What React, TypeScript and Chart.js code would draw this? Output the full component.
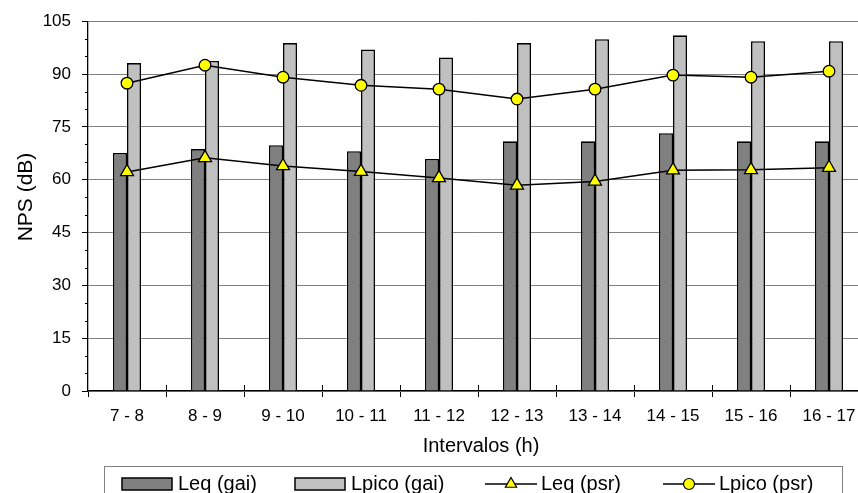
import React, { useEffect, useRef } from "react";
import { Chart, registerables } from "chart.js";

Chart.register(...registerables);

// Hourly intervals and measured sound pressure levels (dB)
const categories = ["7 - 8", "8 - 9", "9 - 10", "10 - 11", "11 - 12", "12 - 13", "13 - 14", "14 - 15", "15 - 16", "16 - 17"];
const leqGai = [67.6, 68.7, 69.8, 68.1, 65.9, 70.9, 70.9, 73.2, 70.9, 70.9];
const lpicoGai = [93.1, 93.7, 98.8, 97.0, 94.7, 98.8, 99.9, 101.0, 99.3, 99.3];
const leqPsr = [62.2, 66.2, 63.9, 62.3, 60.5, 58.4, 59.5, 62.7, 62.8, 63.4];
const lpicoPsr = [87.4, 92.5, 89.1, 86.8, 85.7, 82.9, 85.7, 89.7, 89.1, 90.8];
const yTicks = [0, 15, 30, 45, 60, 75, 90, 105];
const yMinorStep = 5;

const FONT = "'Liberation Sans', Arial, Helvetica, sans-serif";

const decor = {
  id: "decor",
  afterDraw(chart: any) {
    const { ctx, chartArea, scales } = chart;
    const x = scales.x;
    const y = scales.y;
    ctx.save();

    // minor ticks on the value axis
    ctx.strokeStyle = "#000";
    ctx.lineWidth = 1;
    for (let v = yTicks[0]; v <= yTicks[yTicks.length - 1]; v += yMinorStep) {
      if (yTicks.includes(v)) continue;
      const py = Math.round(y.getPixelForValue(v)) + 0.5;
      ctx.beginPath();
      ctx.moveTo(chartArea.left - 3, py);
      ctx.lineTo(chartArea.left, py);
      ctx.stroke();
    }

    // category ticks cross the axis line
    for (let i = 1; i < categories.length; i++) {
      const px = Math.round((x.getPixelForValue(i - 1) + x.getPixelForValue(i)) / 2) + 0.5;
      ctx.beginPath();
      ctx.moveTo(px, chartArea.bottom - 6);
      ctx.lineTo(px, chartArea.bottom);
      ctx.stroke();
    }

    // axis titles
    ctx.fillStyle = "#000";
    ctx.font = `20px ${FONT}`;
    ctx.textAlign = "center";
    ctx.textBaseline = "alphabetic";
    ctx.fillText("Intervalos (h)", 481, 452);

    ctx.save();
    ctx.translate(32, 197);
    ctx.rotate(-Math.PI / 2);
    ctx.font = `21px ${FONT}`;
    ctx.textBaseline = "alphabetic";
    ctx.fillText("NPS (dB)", 0, 0);
    ctx.restore();

    // legend
    ctx.strokeStyle = "#808080";
    ctx.lineWidth = 1;
    ctx.fillStyle = "#fff";
    ctx.fillRect(104.5, 466.5, 738, 40);
    ctx.strokeRect(104.5, 466.5, 738, 40);

    const ds = chart.data.datasets;
    const items = [
      { x: 122, tx: 178 },
      { x: 295, tx: 351 },
      { x: 485, tx: 541 },
      { x: 663, tx: 719 },
    ];
    const midY = 484;
    ctx.font = `20px ${FONT}`;
    ctx.textAlign = "left";
    ctx.textBaseline = "alphabetic";
    items.forEach((it, i) => {
      const d = ds[i];
      if (d.type === "bar") {
        ctx.fillStyle = d.backgroundColor;
        ctx.fillRect(it.x, 478, 50, 12);
        ctx.strokeStyle = "#000";
        ctx.lineWidth = 1.5;
        ctx.strokeRect(it.x, 478, 50, 12);
      } else {
        ctx.strokeStyle = "#000";
        ctx.lineWidth = 1.5;
        ctx.beginPath();
        ctx.moveTo(it.x, midY);
        ctx.lineTo(it.x + 52, midY);
        ctx.stroke();
        ctx.fillStyle = d.pointBackgroundColor;
        ctx.lineWidth = 1.2;
        const cx = it.x + 26;
        ctx.beginPath();
        if (d.pointStyle === "triangle") {
          const r = 6.5;
          ctx.moveTo(cx, midY - r);
          ctx.lineTo(cx + r * 0.87, midY + r / 2);
          ctx.lineTo(cx - r * 0.87, midY + r / 2);
          ctx.closePath();
        } else {
          ctx.arc(cx, midY, 5.5, 0, Math.PI * 2);
        }
        ctx.fill();
        ctx.stroke();
      }
      ctx.fillStyle = "#000";
      ctx.fillText(d.label, it.tx, 490);
    });

    ctx.restore();
  },
};

export default function App() {
  const canvasRef = useRef<HTMLCanvasElement | null>(null);

  useEffect(() => {
    const canvas = canvasRef.current;
    if (!canvas) return;
    const chart = new Chart(canvas, {
      type: "bar",
      data: {
        labels: categories,
        datasets: [
          {
            type: "bar",
            label: "Leq (gai)",
            data: leqGai,
            backgroundColor: "#808080",
            borderColor: "#000",
            borderWidth: 1.6,
            categoryPercentage: 0.36,
            barPercentage: 1,
            order: 1,
          },
          {
            type: "bar",
            label: "Lpico (gai)",
            data: lpicoGai,
            backgroundColor: "#C0C0C0",
            borderColor: "#000",
            borderWidth: 1.6,
            categoryPercentage: 0.36,
            barPercentage: 1,
            order: 1,
          },
          {
            type: "line",
            label: "Leq (psr)",
            data: leqPsr,
            borderColor: "#000",
            borderWidth: 1.5,
            pointStyle: "triangle",
            pointRadius: 7.5,
            pointBackgroundColor: "#FFFF00",
            pointBorderColor: "#000",
            pointBorderWidth: 1.3,
            tension: 0,
            order: 0,
          },
          {
            type: "line",
            label: "Lpico (psr)",
            data: lpicoPsr,
            borderColor: "#000",
            borderWidth: 1.5,
            pointStyle: "circle",
            pointRadius: 5.8,
            pointBackgroundColor: "#FFFF00",
            pointBorderColor: "#000",
            pointBorderWidth: 1.3,
            tension: 0,
            order: 0,
          },
        ] as any,
      },
      options: {
        responsive: false,
        animation: false,
        layout: { padding: { top: 21, right: 12, bottom: 0, left: 0 } },
        plugins: {
          legend: { display: false },
          tooltip: { enabled: false },
          title: { display: false },
        },
        scales: {
          x: {
            offset: true,
            grid: {
              offset: true,
              drawOnChartArea: false,
              drawTicks: true,
              tickLength: 6,
              tickColor: "#000",
            },
            border: { display: true, color: "#000", width: 1.3 },
            ticks: {
              color: "#000",
              font: { family: FONT, size: 17 },
              padding: 9,
              maxRotation: 0,
              autoSkip: false,
            },
            afterFit: (s: any) => {
              s.height = 102;
            },
          },
          y: {
            min: 0,
            max: 105,
            grid: {
              color: "#808080",
              lineWidth: 1,
              tickColor: "#000",
              tickLength: 6,
            },
            border: { display: true, color: "#000", width: 1.3 },
            ticks: {
              color: "#000",
              font: { family: FONT, size: 17 },
              padding: 11,
            },
            afterBuildTicks: (s: any) => {
              s.ticks = yTicks.map((v) => ({ value: v }));
            },
            afterFit: (s: any) => {
              s.width = 88;
            },
          },
        },
      },
      plugins: [decor],
    });
    return () => chart.destroy();
  }, []);

  return (
    <div
      style={{
        position: "fixed",
        left: 0,
        top: 0,
        width: 858,
        height: 493,
        overflow: "hidden",
        background: "#fff",
      }}
    >
      <canvas ref={canvasRef} width={880} height={493} style={{ display: "block" }} />
    </div>
  );
}
